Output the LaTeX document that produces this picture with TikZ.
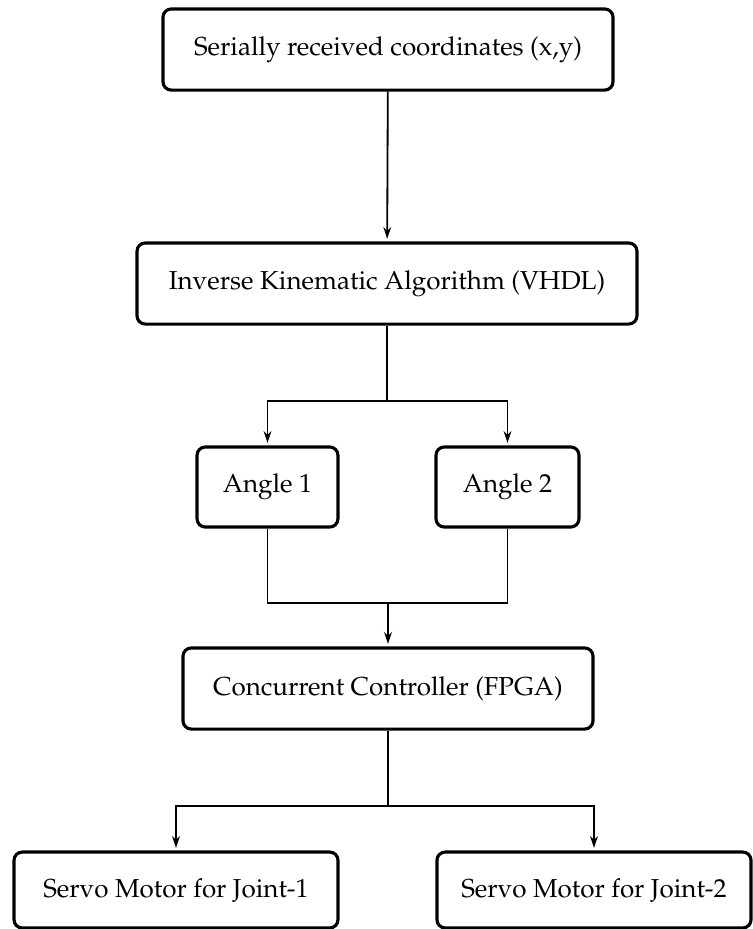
\documentclass[tikz,border=0pt]{standalone}
\usepackage[T1]{fontenc}
\usepackage{mathpazo}
\usetikzlibrary{arrows.meta}
\begin{document}
\begin{tikzpicture}[x=0.3846pt,y=-0.3846pt,
  blk/.style={draw, line width=1.2pt, rounded corners=3.2pt, inner sep=0pt,
    align=center, font=\fontsize{10}{12}\selectfont},
  conn/.style={line width=0.7pt},
  arr/.style={conn, -{Stealth[length=4.5pt,width=3pt]}, shorten >=1pt}]
\useasboundingbox (0,0) rectangle (752,929);
\node[blk, minimum width=173.1pt, minimum height=31.2pt] (b1) at (388,49.5) {Serially received coordinates (x,y)};
\node[blk, minimum width=192.3pt, minimum height=31.2pt] (b2) at (387,283.5) {Inverse Kinematic Algorithm (VHDL)};
\node[blk, minimum width=54.2pt, minimum height=30.8pt] (a1) at (267.5,487) {Angle 1};
\node[blk, minimum width=55.0pt, minimum height=30.8pt] (a2) at (507.5,487) {Angle 2};
\node[blk, minimum width=157.7pt, minimum height=31.2pt] (b4) at (388,688.5) {Concurrent Controller (FPGA)};
\node[blk, minimum width=124.6pt, minimum height=29.2pt] (b5) at (176,890) {Servo Motor for Joint-1};
\node[blk, minimum width=120.8pt, minimum height=29.2pt] (b6) at (594,890) {Servo Motor for Joint-2};
\coordinate (s1) at (387,401);
\coordinate (j1) at (388,603);
\coordinate (s2) at (388,806);
\draw[arr] (b1) -- (b2);
\draw[arr] (b2.south) -- (s1) -| (a1.north);
\draw[arr] (b2.south) -- (s1) -| (a2.north);
\draw[conn] (a1.south) |- (j1);
\draw[conn] (a2.south) |- (j1);
\draw[arr] (j1) -- (b4.north);
\draw[arr] (b4.south) -- (s2) -| (b5.north);
\draw[arr] (b4.south) -- (s2) -| (b6.north);
\end{tikzpicture}
\end{document}
